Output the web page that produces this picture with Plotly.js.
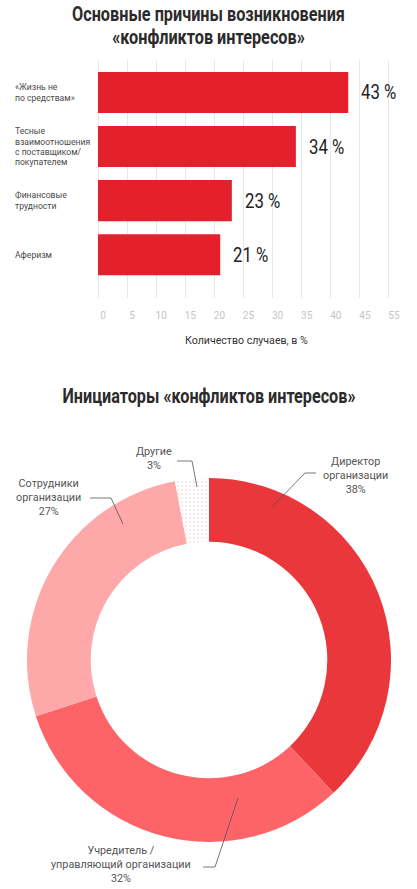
<!DOCTYPE html>
<html>
<head>
<meta charset="utf-8">
<script src="https://cdn.plot.ly/plotly-3.0.1.min.js"></script>
<style>
  html, body { margin: 0; padding: 0; background: #ffffff; }
  #chart { width: 417px; height: 889px; }
</style>
</head>
<body>
<div id="chart"></div>
<script>
// ---------- data ----------
const reasons = [
  '«Жизнь не<br>по средствам»',
  'Тесные<br>взаимоотношения<br>с поставщиком/<br>покупателем',
  'Финансовые<br>трудности',
  'Аферизм'
];
const reasonValues = [43, 34, 23, 21];
const reasonValueLabels = ['43 %', '34 %', '23 %', '21 %'];
const xTickVals = [0, 5, 10, 15, 20, 25, 30, 35, 40, 45, 50];
const xTickText = ['0', '5', '10', '15', '20', '25', '30', '35', '40', '45', '55'];
const barTitle = 'Основные причины возникновения<br>«конфликтов интересов»';
const barAxisTitle = 'Количество случаев, в %';

const initiators = ['Директор организации', 'Учредитель / управляющий организации', 'Сотрудники организации', 'Другие'];
const initiatorShares = [38, 32, 27, 3];
const initiatorLabels = [
  'Директор<br>организации<br>38%',
  'Учредитель /<br>управляющий организации<br>32%',
  'Сотрудники<br>организации<br>27%',
  'Другие<br>3%'
];
const pieTitle = 'Инициаторы «конфликтов интересов»';

// ---------- styling ----------
const W = 417, H = 889;
const px = v => v / W;
const py = v => 1 - v / H;
const headFont = "'Roboto', 'Open Sans', sans-serif";
const sans = "'Roboto', 'Open Sans', 'Noto Sans', sans-serif";
const pieColors = ['#ea373b', '#fe6467', '#fea8a9', '#fdd8d8'];
const catFontSize = 8.6;
const catLineGap = 10.4;
const titleFontSize = 21;

// label placement (pixel positions of the reference layout)
const pieLabelPos = [[355, 475], [121, 864], [48, 497], [154, 458]];
const leaderPaths = [
  [[272, 507], [305, 473], [316, 473]],
  [[238, 798], [215, 867], [203, 867]],
  [[123, 524], [111, 498], [90, 498]],
  [[197, 487], [192, 461], [177, 461]]
];

const traces = [
  {
    type: 'bar',
    orientation: 'h',
    x: reasonValues,
    y: reasons,
    xaxis: 'x',
    yaxis: 'y',
    width: 0.76,
    marker: { color: '#e4202d', line: { width: 0 } },
    hoverinfo: 'skip'
  },
  {
    type: 'pie',
    labels: initiators,
    values: initiatorShares,
    sort: false,
    direction: 'clockwise',
    rotation: 0,
    hole: 0.65,
    textinfo: 'none',
    hoverinfo: 'skip',
    showlegend: false,
    domain: { x: [px(27), px(391)], y: [py(842), py(478)] },
    marker: {
      colors: pieColors,
      line: { width: 0 },
      pattern: {
        shape: ['', '', '', '.'],
        fgcolor: ['#ffffff', '#ffffff', '#ffffff', '#f8caca'],
        size: 4,
        solidity: 0.1
      }
    }
  }
];

const annotations = [];
const catIdx = [], valIdx = [];
reasons.forEach((r, i) => {
  catIdx.push(annotations.length);
  annotations.push({
    xref: 'paper', yref: 'y', x: px(13), y: r,
    xanchor: 'left', yanchor: 'middle', align: 'left',
    text: r, showarrow: false,
    font: { family: sans, size: catFontSize, color: '#4a4a4a' }
  });
  valIdx.push(annotations.length);
  annotations.push({
    xref: 'x', yref: 'y', x: reasonValues[i], y: r,
    xanchor: 'left', yanchor: 'middle', xshift: 11,
    text: reasonValueLabels[i], showarrow: false,
    font: { family: headFont, size: 20, color: '#222222' }
  });
});
const pieTitleIdx = annotations.length;
annotations.push({
  xref: 'paper', yref: 'paper', x: 0.5, y: py(396),
  xanchor: 'center', yanchor: 'middle',
  text: '<b>' + pieTitle + '</b>', showarrow: false,
  font: { family: headFont, size: titleFontSize, color: '#2b2b2b' }
});
initiatorLabels.forEach((t, i) => {
  annotations.push({
    xref: 'paper', yref: 'paper', x: px(pieLabelPos[i][0]), y: py(pieLabelPos[i][1]),
    xanchor: 'center', yanchor: 'middle', align: 'center',
    text: t, showarrow: false,
    font: { family: sans, size: 10.8, color: '#555555' }
  });
});

const shapes = leaderPaths.map(p => ({
  type: 'path', xref: 'paper', yref: 'paper',
  path: 'M ' + p.map(q => px(q[0]) + ',' + py(q[1])).join(' L '),
  line: { color: '#555555', width: 0.8 }
}));

const layout = {
  width: W, height: H,
  margin: { l: 0, r: 0, t: 0, b: 0 },
  paper_bgcolor: '#ffffff',
  plot_bgcolor: '#ffffff',
  showlegend: false,
  title: {
    text: '<b>' + barTitle + '</b>',
    x: 0.5, xref: 'paper', xanchor: 'center',
    y: 1 - 26.5 / H, yref: 'container', yanchor: 'middle',
    font: { family: headFont, size: titleFontSize, color: '#2b2b2b' }
  },
  xaxis: {
    domain: [px(98), px(394.8)],
    anchor: 'y',
    range: [0, 51],
    tickvals: xTickVals,
    ticktext: xTickText,
    showgrid: true,
    gridcolor: '#e6e6e6',
    gridwidth: 1,
    zeroline: true,
    zerolinecolor: '#e6e6e6',
    zerolinewidth: 1,
    showline: false,
    ticks: 'outside',
    ticklen: 8,
    tickcolor: 'rgba(0,0,0,0)',
    ticklabelshift: 5,
    tickfont: { family: sans, size: 10, color: '#c4c4c4' },
    title: { text: barAxisTitle, standoff: 16, font: { family: sans, size: 10.6, color: '#333333' } },
    fixedrange: true
  },
  yaxis: {
    domain: [py(298), py(60)],
    anchor: 'x',
    type: 'category',
    range: [3.8, -0.6],
    showticklabels: false,
    showgrid: false,
    zeroline: false,
    showline: false,
    ticks: '',
    fixedrange: true
  },
  annotations: annotations,
  shapes: shapes
};

// narrow the headline texts (condensed look) and tighten multi-line spacing
function squeeze(el, opts) {
  if (!el) return;
  const lines = el.querySelectorAll('tspan.line');
  let shiftY = opts.dy || 0;
  if (opts.gap && lines.length > 1) {
    lines.forEach((t, i) => t.setAttribute('dy', (i * opts.gap) + 'px'));
    shiftY += (lines.length - 1) * (1.3 * opts.fontSize - opts.gap) / 2;
  }
  const bb = el.getBBox();
  const ax = opts.anchor === 'left' ? bb.x : bb.x + bb.width / 2;
  const sx = opts.targetWidth ? opts.targetWidth / bb.width : (opts.sx || 1);
  const prev = el.getAttribute('transform') || '';
  el.setAttribute('transform',
    prev + ' translate(' + ax + ',' + shiftY + ') scale(' + sx + ',1) translate(' + (-ax) + ',0)');
}

const gd = document.getElementById('chart');
Plotly.newPlot(gd, traces, layout, { displayModeBar: false, staticPlot: true }).then(() => {
  const annText = k => gd.querySelector('.annotation[data-index="' + k + '"] .annotation-text');
  squeeze(gd.querySelector('.gtitle'), { targetWidth: 273, gap: 23, fontSize: titleFontSize, dy: -8 });
  squeeze(annText(pieTitleIdx), { targetWidth: 293 });
  valIdx.forEach(k => squeeze(annText(k), { sx: 0.84, anchor: 'left' }));
  catIdx.forEach(k => squeeze(annText(k), { sx: 1, anchor: 'left', gap: catLineGap, fontSize: catFontSize }));
});
</script>
</body>
</html>
